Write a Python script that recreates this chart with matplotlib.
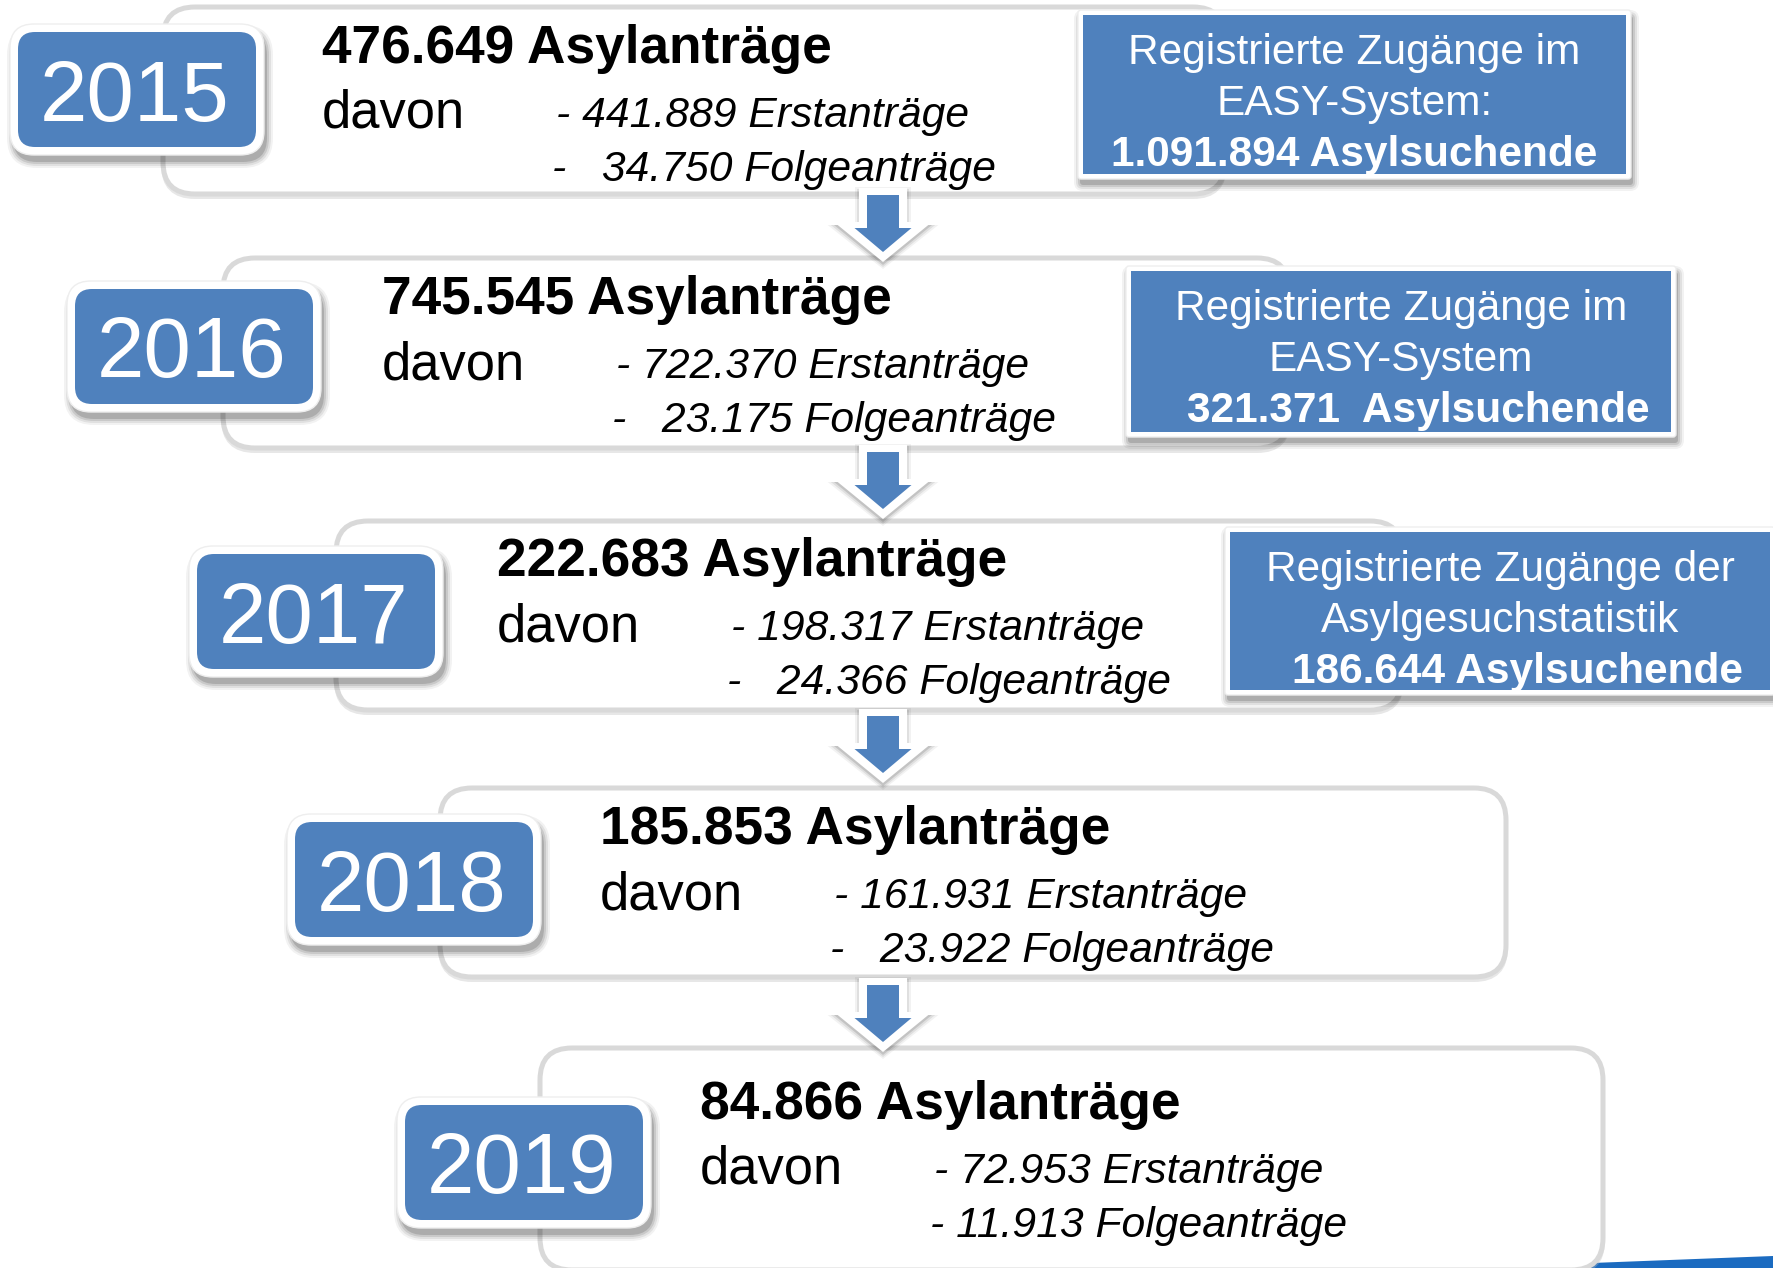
import matplotlib
matplotlib.use("Agg")
import matplotlib.pyplot as plt
from matplotlib.patches import FancyBboxPatch, Polygon

plt.rcParams['font.family'] = ['Liberation Sans', 'DejaVu Sans']

# data
years = ['2015', '2016', '2017', '2018', '2019']
totals = ['476.649', '745.545', '222.683', '185.853', '84.866']
erst = ['441.889', '722.370', '198.317', '161.931', '72.953']
folge = ['34.750', '23.175', '24.366', '23.922', '11.913']
info_head = [['Registrierte Zugänge im', 'EASY-System:'],
             ['Registrierte Zugänge im', 'EASY-System'],
             ['Registrierte Zugänge der', 'Asylgesuchstatistik']]
info_values = ['1.091.894', '321.371', '186.644']
info_sep = [' ', '  ', ' ']

# layout (pixels of the 1773x1268 canvas, y downwards)
W, H = 1773, 1268
panel_x0 = [163, 223, 336, 440, 540]
panel_x1 = [1225, 1289, 1402, 1506, 1603]
panel_y0 = [7, 258, 521, 788, 1048]
panel_y1 = [194, 448, 710, 977, 1270]
title_x = [322, 382, 497, 600, 700]
title_y = [63, 314, 576, 844, 1119]
folge_gap = [3, 3, 3, 3, 1]
badge_x = [18, 75, 197, 295, 405]
badge_y = [32, 289, 554, 822, 1105]
badge_w, badge_h = 238, 115
info_x0 = [1083, 1131, 1230]
info_x1 = [1626, 1671, 1770]
info_y0 = [15, 271, 532]
info_y1 = [174, 432, 690]
info_shift = [0, 17, 17]
arrow_x = 883
arrow_top = [188, 445, 709, 978]

BLUE = '#4F81BD'
GREY = '#D9D9D9'
PX = 0.72  # points per pixel at dpi 100


def rbox(x0, y0, x1, y1, r, **kw):
    return FancyBboxPatch((x0, y0), x1 - x0, y1 - y0,
                          boxstyle=f"round,pad=0,rounding_size={r}", **kw)


def soft_shadow(ax, x0, y0, x1, y1, r, dx, dy, z):
    for grow, a in [(6, 0.05), (4, 0.07), (2, 0.10), (0, 0.14)]:
        ax.add_patch(rbox(x0 + dx - grow, y0 + dy - grow, x1 + dx + grow, y1 + dy + grow,
                          r + grow, facecolor='black', edgecolor='none', alpha=a, zorder=z))


def arrow_poly(top, sw, hw, base, tip):
    return [(arrow_x - sw, top), (arrow_x + sw, top), (arrow_x + sw, base),
            (arrow_x + hw, base), (arrow_x, tip), (arrow_x - hw, base),
            (arrow_x - sw, base)]


fig = plt.figure(figsize=(W / 100, H / 100), dpi=100)
ax = fig.add_axes([0, 0, 1, 1])
ax.set_xlim(0, W)
ax.set_ylim(H, 0)
ax.axis('off')

# blue stripe at the bottom right corner
ax.add_patch(Polygon([(1586, 1268), (1592, 1263), (W, 1256), (W, H)],
                     closed=True, facecolor='#1B6BC0', edgecolor='none', zorder=0))

for i, yr in enumerate(years):
    x0, x1, y0, y1 = panel_x0[i], panel_x1[i], panel_y0[i], panel_y1[i]
    # panel shadow + frame
    ax.add_patch(rbox(x0, y0 + 3, x1, y1 + 3, 32, facecolor='none',
                      edgecolor='#BBBBBB', lw=4 * PX, alpha=0.35, zorder=1))
    ax.add_patch(rbox(x0, y0, x1, y1, 32, facecolor='white',
                      edgecolor=GREY, lw=5 * PX, zorder=2))

    # year badge
    bx, by = badge_x[i], badge_y[i]
    soft_shadow(ax, bx - 8, by - 8, bx + badge_w + 8, by + badge_h + 8, 24, 3, 7, 3)
    ax.add_patch(rbox(bx - 8, by - 8, bx + badge_w + 8, by + badge_h + 8, 24,
                      facecolor='white', edgecolor='#EEEEEE', lw=1, zorder=4))
    ax.add_patch(rbox(bx, by, bx + badge_w, by + badge_h, 17,
                      facecolor=BLUE, edgecolor='none', zorder=5))
    ax.text(bx + badge_w / 2 - 2, by + badge_h / 2 + 31, yr, color='white',
            fontsize=61.5, ha='center', va='baseline', zorder=6)

    # texts
    tx, ty = title_x[i], title_y[i]
    ax.text(tx, ty, f'{totals[i]} Asylanträge', fontsize=38.3, fontweight='bold',
            ha='left', va='baseline', zorder=6)
    ax.text(tx, ty + 65, 'davon', fontsize=37.8, ha='left', va='baseline', zorder=6)
    ax.text(tx + 234, ty + 64, f'- {erst[i]} Erstanträge', fontsize=30.7,
            style='italic', ha='left', va='baseline', zorder=6)
    ax.text(tx + 230, ty + 118, '-' + ' ' * folge_gap[i] + f'{folge[i]} Folgeanträge',
            fontsize=30.7, style='italic', ha='left', va='baseline', zorder=6)

# info boxes
for j, head in enumerate(info_head):
    x0, x1, y0, y1 = info_x0[j], info_x1[j], info_y0[j], info_y1[j]
    soft_shadow(ax, x0 - 5, y0 - 5, x1 + 5, y1 + 5, 3, 2, 6, 7)
    ax.add_patch(rbox(x0 - 5, y0 - 5, x1 + 5, y1 + 5, 3, facecolor='white',
                      edgecolor='#EEEEEE', lw=1, zorder=8))
    ax.add_patch(rbox(x0, y0, x1, y1, 0.1, facecolor=BLUE, edgecolor='none', zorder=9))
    cx = (x0 + x1) / 2
    for k, line in enumerate(head):
        ax.text(cx, y0 + 49 + 51 * k, line, color='white', fontsize=30.5,
                ha='center', va='baseline', zorder=10)
    ax.text(cx + info_shift[j], y0 + 151, info_values[j] + info_sep[j] + 'Asylsuchende',
            color='white', fontsize=30.5, fontweight='bold',
            ha='center', va='baseline', zorder=10)

# arrows between the years
for t in arrow_top:
    for grow, a in [(4, 0.05), (2, 0.08), (0, 0.12)]:
        ax.add_patch(Polygon(arrow_poly(t + 3 - grow, 24 + grow, 49 + grow * 1.6,
                                        t + 37, t + 77 + grow),
                             closed=True, facecolor='black', edgecolor='none',
                             alpha=a, zorder=11))
    ax.add_patch(Polygon(arrow_poly(t, 24, 49, t + 34, t + 74), closed=True,
                         facecolor='white', edgecolor='none', zorder=12))
    ax.add_patch(Polygon(arrow_poly(t + 7, 16, 28.5, t + 40, t + 64), closed=True,
                         facecolor=BLUE, edgecolor='none', zorder=13))

fig.savefig('out.png', dpi=100)
